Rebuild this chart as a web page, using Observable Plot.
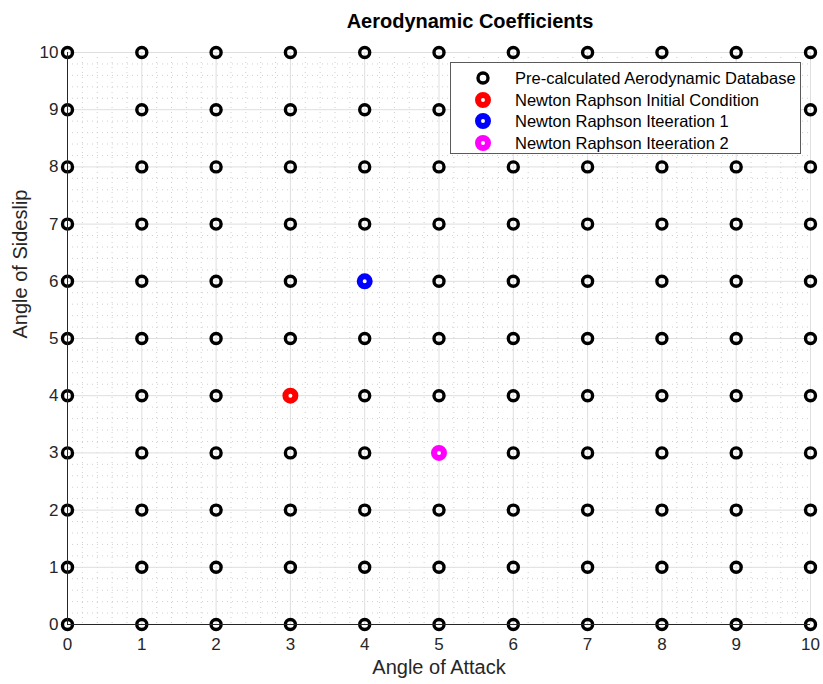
<!DOCTYPE html>
<html><head><meta charset="utf-8">
<script src="https://cdn.jsdelivr.net/npm/d3@7"></script>
<script src="https://cdn.jsdelivr.net/npm/@observablehq/plot@0.6"></script>
<style>
body{margin:0;background:#fff;font-family:"Liberation Sans",Arial,sans-serif;}
#wrap{position:relative;width:823px;height:684px;}
#title{height:30px;box-sizing:border-box;padding-top:10px;padding-left:130px;width:810px;text-align:center;font-weight:bold;font-size:20px;line-height:22px;color:#000;white-space:nowrap;}
#legend{position:absolute;left:450px;top:62px;width:351px;height:92px;border:1px solid #5a5a5a;background:#fff;box-sizing:border-box;}
.row{position:absolute;left:0;height:20px;font-size:16.5px;color:#000;white-space:nowrap;}
.row svg{position:absolute;left:23px;top:1px;}
.row span{position:absolute;left:64px;top:0px;line-height:20px;}
</style></head>
<body><div id="wrap"><div id="title">Aerodynamic Coefficients</div><div id="chart"></div><div id="legend"></div></div>
<script>
const alphaValues = [0,1,2,3,4,5,6,7,8,9,10];
const betaValues = [0,1,2,3,4,5,6,7,8,9,10];
const iterLabels = ["Newton Raphson Initial Condition","Newton Raphson Iteeration 1","Newton Raphson Iteeration 2"];
const iterAlpha = [3,4,5];
const iterBeta = [4,6,3];
const iterColors = ["#ff0000","#0000ff","#ff00ff"];
const dbLabel = "Pre-calculated Aerodynamic Database";
const xTicks = [0,1,2,3,4,5,6,7,8,9,10];
const yTicks = [0,1,2,3,4,5,6,7,8,9,10];
const minorTicks = d3.range(0, 50).map(i => i/5).filter(v => v % 1 !== 0);

const db = [];
for (const b of betaValues) for (const a of alphaValues) db.push({a, b});
const iters = iterLabels.map((l,i) => ({label:l, a:iterAlpha[i], b:iterBeta[i], c:iterColors[i]}));

const chart = Plot.plot({
  width: 823, height: 654,
  marginLeft: 67, marginRight: 13, marginTop: 22, marginBottom: 60,
  style: {fontFamily: "'Liberation Sans', Arial, sans-serif", background: "#fff"},
  x: {domain: [0, 10]},
  y: {domain: [0, 10]},
  marks: [
    Plot.gridX(minorTicks, {stroke: "#cfcfcf", strokeOpacity: 1, strokeDasharray: "1,4"}),
    Plot.gridY(minorTicks, {stroke: "#cfcfcf", strokeOpacity: 1, strokeDasharray: "1,4"}),
    Plot.gridX(xTicks, {stroke: "#dedede", strokeOpacity: 1}),
    Plot.gridY(yTicks, {stroke: "#dedede", strokeOpacity: 1}),
    Plot.dot(db, {x: "a", y: "b", r: 5, stroke: "#000", strokeWidth: 3.4, fill: "none"}),
    Plot.dot(iters, {x: "a", y: "b", r: 5, stroke: "c", strokeWidth: 6, fill: "#fff"}),
    Plot.ruleX([0], {stroke: "#262626", strokeWidth: 1}),
    Plot.ruleY([0], {stroke: "#262626", strokeWidth: 1}),
    Plot.axisX(xTicks, {tickSize: 0, tickPadding: 13, fontSize: 17, fill: "#262626", label: null, tickFormat: d => String(d)}),
    Plot.axisY(yTicks, {tickSize: 0, tickPadding: 9, fontSize: 17, fill: "#262626", label: null, tickFormat: d => String(d)}),
    Plot.text(["Angle of Attack"], {frameAnchor: "bottom", dy: 49, fontSize: 20, fill: "#262626"}),
    Plot.text(["Angle of Sideslip"], {frameAnchor: "left", dx: -47, rotate: -90, fontSize: 20, fill: "#262626"})
  ]
});
document.getElementById("chart").appendChild(chart);

const legend = document.getElementById("legend");
const entries = [{label: dbLabel, c: "#000", db: true}, ...iters.map(d => ({label: d.label, c: d.c}))];
entries.forEach((e, i) => {
  const row = document.createElement("div");
  row.className = "row";
  row.style.top = (5 + i * 21.7) + "px";
  const svg = e.db
    ? `<svg width="18" height="18"><circle cx="9" cy="9" r="5" fill="none" stroke="${e.c}" stroke-width="3.4"/></svg>`
    : `<svg width="18" height="18"><circle cx="9" cy="9" r="5" fill="#fff" stroke="${e.c}" stroke-width="6"/></svg>`;
  row.innerHTML = svg + `<span>${e.label}</span>`;
  legend.appendChild(row);
});
</script></body></html>
